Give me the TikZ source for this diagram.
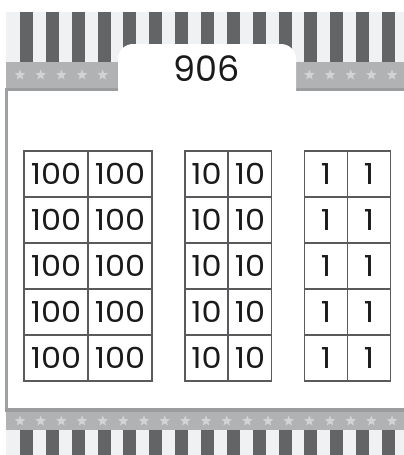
\documentclass[tikz,border=0pt]{standalone}
\usepackage{fontspec}
\setmainfont{Poppins}
\newfontfamily\celldigits[FakeStretch=1.1]{Poppins}
\usetikzlibrary{shapes.geometric}
\definecolor{stripelight}{HTML}{F0F1F3}
\definecolor{stripedark}{HTML}{636466}
\definecolor{bandgray}{HTML}{B1B2B4}
\definecolor{bandline}{HTML}{9B9C9E}
\definecolor{starfill}{HTML}{D2D3D5}
\definecolor{boxline}{HTML}{A0A1A3}
\definecolor{gridline}{HTML}{5A5A5C}
\definecolor{digitink}{HTML}{1A1A1A}
\tikzset{
  cellbox/.style={draw=gridline, line width=1.1pt, minimum height=46pt, inner sep=0pt,
    font=\celldigits\fontsize{29}{29}\selectfont, text=digitink},
  cellwide/.style={cellbox, minimum width=64pt},
  cellnarrow/.style={cellbox, minimum width=43pt},
  starmark/.style={star, star points=5, star point ratio=2.3, fill=starfill, inner sep=0pt, minimum size=11pt}
}
\begin{document}
\begin{tikzpicture}[x=1pt,y=-1pt]
\useasboundingbox (0,0) rectangle (404,455);
% stripes on top
\fill[stripelight] (6,12) rectangle (404,62);
\foreach \i in {0,...,14} \fill[stripedark] ({20+25.85*\i},12) rectangle ++(13,50);
% band with stars on top
\fill[bandgray] (6,62) rectangle (404,88);
\fill[bandline] (6,88) rectangle (404,91);
\foreach \i in {0,...,18} \node[starmark] (topstar\i) at ({20+20.67*\i},75) {};
% white box
\fill[white] (7.5,91) rectangle (404,408);
\fill[boxline] (5,88) rectangle (7.5,412);
% band with stars at the bottom
\fill[bandline] (5,408) rectangle (404,412);
\fill[bandgray] (6,412) rectangle (404,430);
\foreach \i in {0,...,18} \node[starmark] (botstar\i) at ({20+20.67*\i},421) {};
% stripes at the bottom
\fill[stripelight] (6,430) rectangle (404,455);
\foreach \i in {0,...,14} \fill[stripedark] ({20+25.85*\i},430) rectangle ++(13,25);
% tab with the number
\fill[white, rounded corners=15pt] (118,120) -- (118,44) -- (296,44) -- (296,120) -- cycle;
\node[font=\fontsize{35}{35}\selectfont, text=digitink] (title) at (207,69) {906};
% hundreds, tens, ones
\foreach \r in {1,...,5} {
  \node[cellwide] (hund\r a) at (56,{128+46*\r}) {100};
  \node[cellwide] (hund\r b) at (120,{128+46*\r}) {100};
  \node[cellnarrow] (ten\r a) at (206.5,{128+46*\r}) {10};
  \node[cellnarrow] (ten\r b) at (250,{128+46*\r}) {10};
  \node[cellnarrow] (one\r a) at (326,{128+46*\r}) {1};
  \node[cellnarrow] (one\r b) at (369,{128+46*\r}) {1};
}
\end{tikzpicture}
\end{document}
